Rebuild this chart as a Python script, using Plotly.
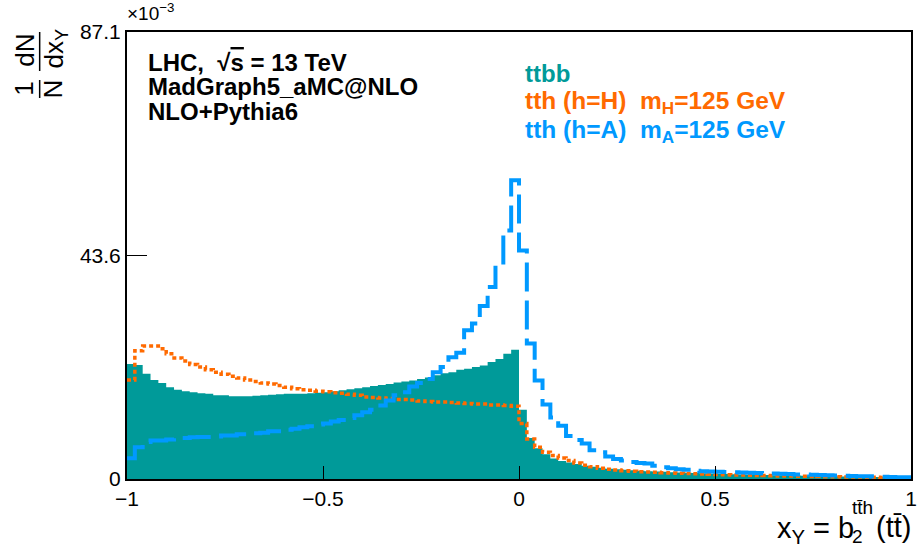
import numpy as np
import plotly.graph_objects as go

# ---- data (per-bin values, in units of 1e-3) ----
x_low, x_high, n_bins = -1.0, 1.0, 100

ttbb = [22.4, 22.2, 20.5, 19.3, 18.7, 17.9, 17.4, 17.1, 16.9, 16.7,
        16.6, 16.3, 16.3, 16.1, 16.1, 16.1, 16.2, 16.3, 16.4, 16.5,
        16.6, 16.6, 16.6, 16.7, 16.8, 16.9, 17.1, 17.3, 17.5, 17.7,
        17.9, 18.1, 18.3, 18.5, 18.8, 19.0, 19.2, 19.5, 19.8, 20.2,
        20.6, 20.8, 21.3, 21.5, 21.8, 22.1, 22.8, 23.4, 24.4, 25.2,
        13.5, 8.0, 6.0, 4.8, 4.0, 3.5, 3.2, 2.9, 2.6, 2.4,
        2.2, 2.0, 1.9, 1.8, 1.7, 1.6, 1.5, 1.45, 1.4, 1.3,
        1.25, 1.2, 1.15, 1.1, 1.05, 1.0, 0.95, 0.92, 0.9, 0.85,
        0.8, 0.78, 0.75, 0.72, 0.7, 0.66, 0.63, 0.6, 0.58, 0.55,
        0.52, 0.5, 0.47, 0.45, 0.43, 0.4, 0.38, 0.36, 0.34, 0.32]

tth_H = [19.3, 25.0, 25.9, 25.9, 25.4, 24.4, 23.6, 23.0, 22.3, 21.8,
         21.3, 20.8, 20.4, 20.0, 19.7, 19.3, 19.0, 18.7, 18.5, 18.2,
         17.9, 17.6, 17.4, 17.3, 17.1, 17.0, 16.8, 16.7, 16.5, 16.3,
         16.0, 15.9, 15.8, 15.7, 15.5, 15.5, 15.4, 15.2, 15.1, 15.0,
         15.0, 14.9, 14.8, 14.7, 14.6, 14.6, 14.4, 14.4, 14.3, 14.2,
         10.8, 7.8, 6.2, 5.2, 4.6, 4.1, 3.6, 3.1, 2.7, 2.4,
         2.1, 1.9, 1.75, 1.6, 1.5, 1.4, 1.35, 1.3, 1.2, 1.15,
         1.1, 1.05, 1.0, 0.95, 0.92, 0.88, 0.85, 0.8, 0.77, 0.74,
         0.7, 0.67, 0.64, 0.6, 0.57, 0.55, 0.52, 0.5, 0.47, 0.45,
         0.42, 0.4, 0.38, 0.36, 0.34, 0.32, 0.3, 0.28, 0.26, 0.24]

tth_A = [4.05, 6.2, 7.2, 7.5, 7.5, 7.7, 8.0, 8.0, 8.15, 8.2,
         8.2, 8.3, 8.5, 8.5, 8.7, 8.7, 8.9, 9.0, 9.3, 9.3,
         9.6, 9.8, 10.1, 10.3, 10.6, 10.8, 11.2, 11.5, 11.9, 12.4,
         13.0, 13.5, 14.3, 15.3, 16.3, 16.9, 18.0, 18.7, 19.5, 20.8,
         21.8, 23.7, 24.6, 29.0, 30.3, 33.7, 37.4, 41.6, 48.4, 58.2,
         44.5, 26.4, 19.2, 14.5, 12.0, 10.4, 8.4, 7.6, 6.9, 5.6,
         5.2, 4.4, 3.9, 3.6, 3.3, 3.1, 3.0, 2.6, 2.3, 2.1,
         1.9, 1.8, 1.6, 1.5, 1.45, 1.4, 1.35, 1.3, 1.25, 1.2,
         1.15, 1.1, 1.05, 1.0, 0.95, 0.9, 0.86, 0.82, 0.78, 0.74,
         0.7, 0.65, 0.6, 0.56, 0.52, 0.48, 0.44, 0.4, 0.36, 0.32]

y_max = 87.1e-3
y_tickvals = [0, 43.6e-3, 87.1e-3]
y_ticktext = ["0", "43.6", "87.1"]
x_tickvals = [-1, -0.5, 0, 0.5, 1]

edges = np.linspace(x_low, x_high, n_bins + 1)


def steps(vals):
    v = np.asarray(vals, dtype=float) * 1e-3
    return edges, np.append(v, v[-1])


C_TEAL = "#009a99"
C_ORANGE = "#ff6a00"
C_BLUE = "#0099ff"

fig = go.Figure()
ex, ey = steps(ttbb)
fig.add_trace(go.Scatter(x=ex, y=ey, mode="lines", line=dict(shape="hv", color=C_TEAL, width=0),
                         fill="tozeroy", fillcolor=C_TEAL, name="ttbb"))
ex, ey = steps(tth_H)
fig.add_trace(go.Scatter(x=ex, y=ey, mode="lines",
                         line=dict(shape="hv", color=C_ORANGE, width=3.5, dash="4px,3px"), name="tth H"))
ex, ey = steps(tth_A)
fig.add_trace(go.Scatter(x=ex, y=ey, mode="lines",
                         line=dict(shape="hv", color=C_BLUE, width=4, dash="29px,9px"), name="tth A"))

W, H = 923, 550
ML, MR, MT, MB = 127, 6, 32, 71
PW, PH = W - ML - MR, H - MT - MB


def px(x):
    return (x - ML) / PW


def py(y):
    return (H - MB - y) / PH


FONT = "Liberation Sans, Arial, Helvetica, sans-serif"
ann = []


def text(x, y, s, size, color="black", xanchor="left", angle=0):
    ann.append(dict(x=px(x), y=py(y), xref="paper", yref="paper", text=s, showarrow=False,
                    xanchor=xanchor, yanchor="middle", textangle=angle, borderpad=0,
                    font=dict(family=FONT, size=size, color=color)))


# info text
text(147, 62, "<b>LHC,  √<span style='text-decoration:overline'>s</span> = 13 TeV</b>", 24)
text(147, 87, "<b>MadGraph5_aMC@NLO</b>", 24)
text(147, 111, "<b>NLO+Pythia6</b>", 24)
# legend-like text
text(527, 74, "<b>ttbb</b>", 24, C_TEAL)
text(527, 102, "<b>tth (h=H)  m<sub>H</sub>=125 GeV</b>", 24.5, C_ORANGE)
text(527, 131, "<b>tth (h=A)  m<sub>A</sub>=125 GeV</b>", 24.5, C_BLUE)
# exponent
text(126, 12, "×10<sup>−3</sup>", 19)
# x title: x_Y = b_2^{tt̄h}(tt̄)
text(781, 530, "x<sub>Y</sub> = b", 29)
text(857, 507, "tt̄h", 19)
text(857, 536, "2", 19)
text(881, 527, "(tt̄)", 29)
# y title (rotated fractions)
text(24, 50, "dN", 26, xanchor="center", angle=-90)
text(54, 49, "dx<sub>Y</sub>", 26, xanchor="center", angle=-90)
text(23, 89, "1", 26, xanchor="center", angle=-90)
text(52, 89, "N", 26, xanchor="center", angle=-90)

shapes = [
    dict(type="line", xref="paper", yref="paper", x0=px(39), x1=px(39), y0=py(32), y1=py(71),
         line=dict(color="black", width=1.5)),
    dict(type="line", xref="paper", yref="paper", x0=px(39), x1=px(39), y0=py(80), y1=py(98),
         line=dict(color="black", width=1.5)),
]

fig.update_layout(
    width=W, height=H,
    margin=dict(l=ML, r=MR, t=MT, b=MB),
    plot_bgcolor="white", paper_bgcolor="white",
    showlegend=False,
    font=dict(family=FONT, size=21, color="black"),
    annotations=ann, shapes=shapes,
    xaxis=dict(range=[x_low, x_high], tickvals=x_tickvals, ticks="inside", ticklen=13,
               tickwidth=1.3, tickcolor="black", showline=True, linecolor="black", linewidth=2,
               mirror=True, showgrid=False, zeroline=False, tickfont=dict(size=21)),
    yaxis=dict(range=[0, y_max], tickvals=y_tickvals, ticktext=y_ticktext, ticks="inside",
               ticklen=20, tickwidth=1.3, tickcolor="black", showline=True, linecolor="black",
               linewidth=2, mirror=True, showgrid=False, zeroline=False, tickfont=dict(size=21)),
)

fig.write_html("out.html")
